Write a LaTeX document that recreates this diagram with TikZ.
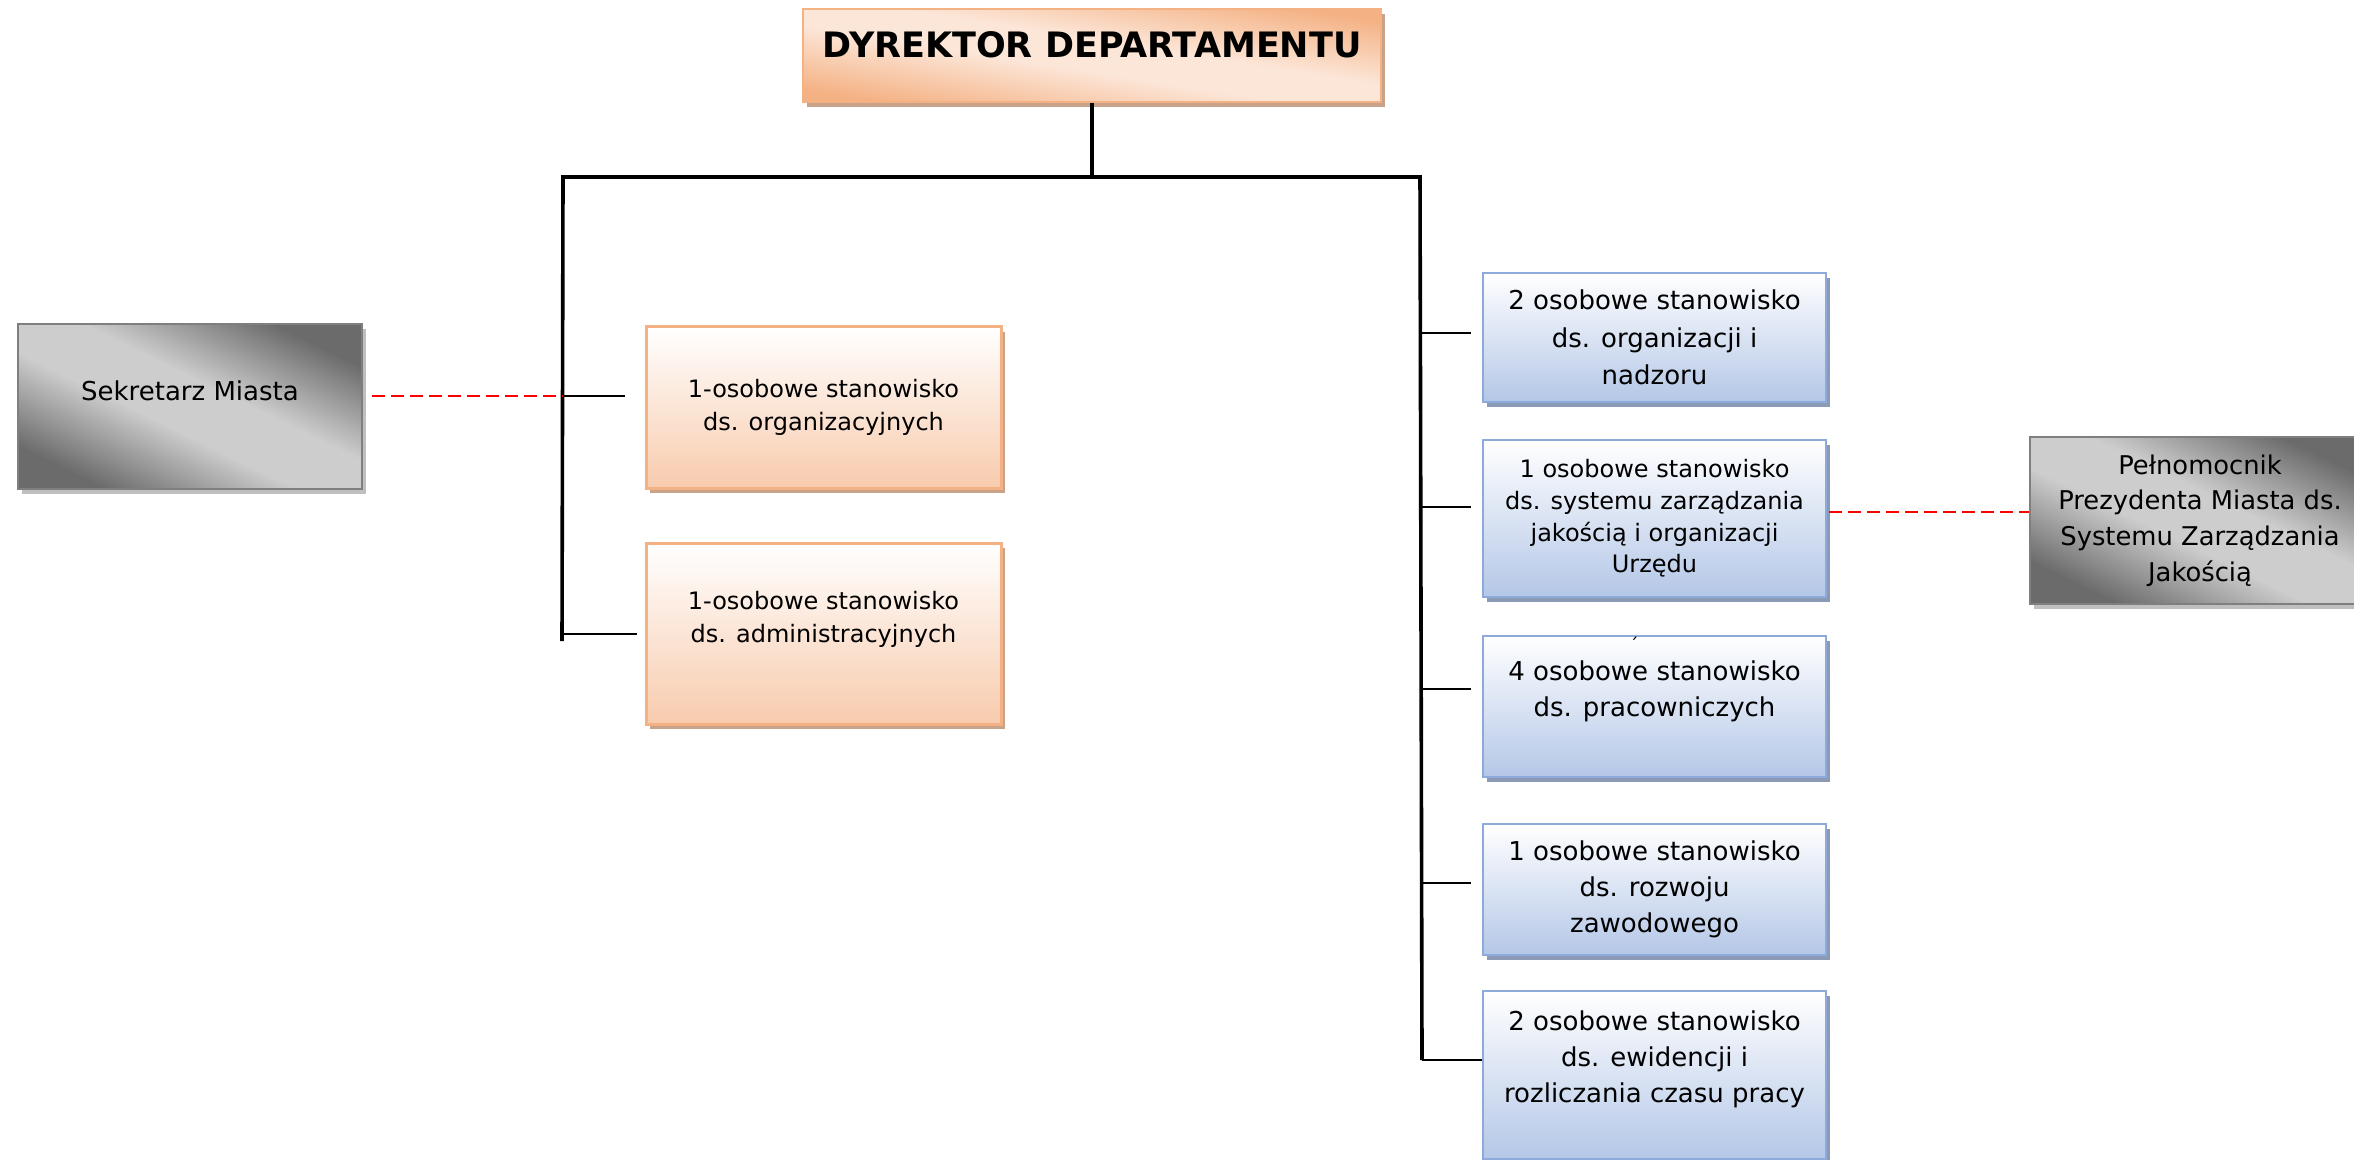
\documentclass[tikz,border=0pt]{standalone}
\usepackage{fontspec}
\setmainfont{DejaVu Sans}
\usetikzlibrary{positioning, shadows}
\definecolor{HeadOrange}{HTML}{F4B183}
\definecolor{HeadLight}{HTML}{FCE6D8}
\definecolor{UnitPeach}{HTML}{F8CBAD}
\definecolor{UnitPeachEdge}{HTML}{F4B183}
\definecolor{UnitPeachShadow}{HTML}{C9A28A}
\definecolor{UnitBlue}{HTML}{B4C7E7}
\definecolor{UnitBlueEdge}{HTML}{8EAADB}
\definecolor{UnitBlueShadow}{HTML}{8C9BB5}
\definecolor{PostDark}{HTML}{6B6B6B}
\definecolor{PostLight}{HTML}{CDCDCD}
\definecolor{PostEdge}{HTML}{7F7F7F}
\definecolor{PostShadow}{HTML}{BFBFBF}

% dark corners, broad light band across the box
\pgfdeclareverticalshading{headshade}{100bp}{color(0bp)=(HeadOrange); color(25bp)=(HeadOrange);
  color(45bp)=(HeadLight); color(55bp)=(HeadLight); color(75bp)=(HeadOrange); color(100bp)=(HeadOrange)}
\pgfdeclareverticalshading{postshade}{100bp}{color(0bp)=(PostDark); color(25bp)=(PostDark);
  color(44bp)=(PostLight); color(56bp)=(PostLight); color(75bp)=(PostDark); color(100bp)=(PostDark)}

\tikzset{
  unit/.style={rectangle, align=center, inner sep=2pt, text=black},
  headbox/.style={unit, draw=HeadOrange, line width=1.2pt,
    shade, shading=headshade, shading angle=-9,
    general shadow={fill=UnitPeachShadow, shadow xshift=2pt, shadow yshift=-2.5pt}},
  peachbox/.style={unit, draw=UnitPeachEdge, line width=1.5pt, minimum width=177.5pt,
    top color=white, bottom color=UnitPeach,
    general shadow={fill=UnitPeachShadow, shadow xshift=2pt, shadow yshift=-2.5pt}},
  bluebox/.style={unit, draw=UnitBlueEdge, line width=1pt, minimum width=171.5pt,
    top color=white, bottom color=UnitBlue,
    general shadow={fill=UnitBlueShadow, shadow xshift=2pt, shadow yshift=-2.5pt}},
  postbox/.style={unit, draw=PostEdge, line width=1.2pt,
    shade, shading=postshade, shading angle=-26,
    general shadow={fill=PostShadow, shadow xshift=2pt, shadow yshift=-2.5pt}},
  trunk/.style={line width=1.8pt, black},
  twig/.style={line width=1pt, black},
  linkdash/.style={red, line width=1.1pt, dash pattern=on 6.5pt off 3pt}
}

\begin{document}
\begin{tikzpicture}[x=0.5pt, y=-0.5pt]
  % page is 2354 x 1160
  \useasboundingbox (0,0) rectangle (2354,1160);

  % head
  \node [headbox, minimum width=289pt, minimum height=46.5pt, text depth=11pt,
    font=\bfseries\fontsize{17.5}{21}\selectfont] (dyr) at (1092,55.5) {DYREKTOR DEPARTAMENTU};

  % left column
  \node [peachbox, minimum height=80.5pt, font=\fontsize{12}{16.5}\selectfont] (org) at (823.5,407.5)
    {1-osobowe stanowisko\\ds. organizacyjnych};
  \node [peachbox, minimum height=90.5pt, below=26pt of org, font=\fontsize{12}{16.5}\selectfont] (adm)
    {1-osobowe stanowisko\\ds. administracyjnych\\\mbox{}};
  \node [postbox, minimum width=172pt, minimum height=82.5pt, font=\fontsize{13}{16}\selectfont] (sek) at (190,406.5)
    {Sekretarz Miasta\\\mbox{}};

  % right column
  \node [bluebox, minimum height=64.5pt, font=\fontsize{13}{18.8}\selectfont] (nadz) at (1654.5,337.5)
    {2 osobowe stanowisko\\ds. organizacji i\\nadzoru};
  \node [bluebox, minimum height=78.5pt, below=18pt of nadz, font=\fontsize{12}{15.8}\selectfont] (jak)
    {1 osobowe stanowisko\\ds. systemu zarządzania\\jakością i organizacji\\Urzędu};
  \node [bluebox, minimum height=70.5pt, below=18.5pt of jak, font=\fontsize{13}{18}\selectfont] (prac)
    {4 osobowe stanowisko\\ds. pracowniczych\\\mbox{}};
  \node [bluebox, minimum height=65.5pt, below=22.5pt of prac, font=\fontsize{13}{18}\selectfont] (rozw)
    {1 osobowe stanowisko\\ds. rozwoju\\zawodowego};
  \node [bluebox, minimum height=84pt, below=17pt of rozw, font=\fontsize{13}{18}\selectfont] (ewid)
    {2 osobowe stanowisko\\ds. ewidencji i\\rozliczania czasu pracy\\\mbox{}};
  \node [inner sep=0pt, font=\fontsize{9}{9}\selectfont] (tick) at (1634,644) {´};

  \node [postbox, minimum width=170pt, minimum height=83.5pt, font=\fontsize{12.9}{17.8}\selectfont] (pel) at (2200,520.5)
    {Pełnomocnik\\Prezydenta Miasta ds.\\Systemu Zarządzania\\Jakością};

  % tree lines
  \coordinate (barL) at (563,177);
  \coordinate (barR) at (1420,177);
  \coordinate (lEnd) at (562,641);
  \coordinate (rEnd) at (1422,1060);
  \draw [trunk] (dyr.south) -- (dyr.south |- barL);
  \draw [trunk] (lEnd) -- (barL) -- (barR) -- (rEnd);

  % short branches, left
  \coordinate (orgIn) at (625,396);
  \coordinate (admIn) at (637,634);
  \draw [twig] (orgIn -| barL) -- (orgIn);
  \draw [twig] (admIn -| barL) -- (admIn);

  % short branches, right
  \foreach \tw/\ty in {nadzIn/333, jakIn/507, pracIn/689, rozwIn/883}{
    \coordinate (\tw) at (1471,\ty);
    \draw [twig] (\tw -| barR) -- (\tw);
  }
  \draw [twig] (rEnd) -- (rEnd -| ewid.west);

  % dashed links
  \coordinate (jakOut) at (1829,512);
  \draw [linkdash] ([xshift=4.5pt]sek.east |- orgIn) -- (orgIn -| barL);
  \draw [linkdash] (jakOut) -- (jakOut -| pel.west);
\end{tikzpicture}
\end{document}
